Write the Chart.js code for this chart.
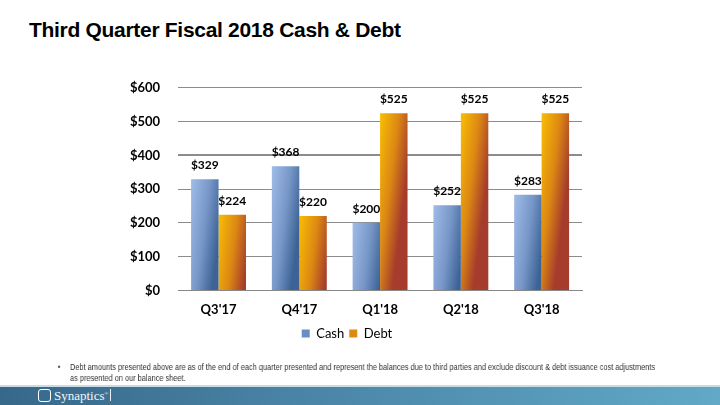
<!DOCTYPE html>
<html>
<head>
<meta charset="utf-8">
<script src="https://cdn.jsdelivr.net/npm/chart.js@4"></script>
<style>
  html, body { margin: 0; padding: 0; }
  body { width: 720px; height: 405px; position: relative; overflow: hidden; background: #fff; font-family: "Liberation Sans", Arial, sans-serif; }
  h1 { position: absolute; left: 29px; top: 18px; margin: 0; font-size: 21px; font-weight: bold; color: #000; letter-spacing: -0.3px; }
  #wrap { position: absolute; left: 112px; top: 62px; width: 486px; height: 291px; }
  .note { position: absolute; left: 70px; top: 362px; white-space: nowrap; font-size: 9px; line-height: 10.5px; color: #333; transform: scaleX(0.82); transform-origin: 0 0; will-change: transform; }
  .note span { position: absolute; left: -15px; }
  .footer { position: absolute; left: 0; top: 385px; width: 720px; height: 20px; background: linear-gradient(to right, #36688a, #4b86a8 45%, #61a9c7); border-top: 2px solid #c9dbe4; box-sizing: border-box; }
  .logo { position: absolute; left: 38px; top: 1px; color: #f2f6f9; font-family: "Liberation Serif", serif; font-size: 13px; }
  .logo i { display: inline-block; width: 13px; height: 13px; border: 1.5px solid #fff; border-radius: 3px; box-sizing: border-box; vertical-align: -2px; margin-right: 3px; }
  .bar { position: absolute; left: 110px; top: 2px; width: 1px; height: 12px; background: #e8f0f5; }
</style>
</head>
<body>
<h1>Third Quarter Fiscal 2018 Cash &amp; Debt</h1>
<div id="wrap"><canvas id="cashDebtChart"></canvas></div>
<div class="note"><span>•</span>Debt amounts presented above are as of the end of each quarter presented and represent the balances due to third parties and exclude discount &amp; debt issuance cost adjustments<br>as presented on our balance sheet.</div>
<div class="footer"><div class="logo"><i></i>Synaptics<sup style="font-size:5px">®</sup></div><div class="bar"></div></div>
<script>
const quarters = ["Q3'17", "Q4'17", "Q1'18", "Q2'18", "Q3'18"];
const cash = [329, 368, 200, 252, 283];
const debt = [224, 220, 525, 525, 525];
const yTicks = [0, 100, 200, 300, 400, 500, 600];

const labelFont = "Lato, 'Open Sans', sans-serif";
const gradientStops = [['#a0bce8', '#7797c8', '#3d6396'], ['#f9be03', '#dc8714', '#a53c2c']];

// each bar gets its own gradient (light left, dark lower right) once positions are known
const barShading = {
    id: 'barShading',
    beforeDatasetsDraw(chart) {
        const c = chart.ctx;
        chart.data.datasets.forEach((ds, i) => {
            const [from, mid, to] = gradientStops[i];
            chart.getDatasetMeta(i).data.forEach(bar => {
                const w = bar.width;
                const left = bar.x - w / 2;
                const g = c.createLinearGradient(left, bar.y, left + w * 1.25, bar.y + w * 0.16);
                g.addColorStop(0, from);
                g.addColorStop(0.55, mid);
                g.addColorStop(1, to);
                bar.options = Object.assign({}, bar.options, { backgroundColor: g });
            });
        });
    }
};

const valueLabels = {
    id: 'valueLabels',
    afterDatasetsDraw(chart) {
        const c = chart.ctx;
        c.save();
        c.font = "bold 12px " + labelFont;
        c.fillStyle = '#000';
        c.textAlign = 'center';
        c.textBaseline = 'bottom';
        chart.data.datasets.forEach((ds, i) => {
            chart.getDatasetMeta(i).data.forEach((bar, j) => {
                c.fillText('$' + ds.data[j], bar.x, bar.y - 8);
            });
        });
        c.restore();
    }
};

new Chart(document.getElementById('cashDebtChart'), {
    type: 'bar',
    data: {
        labels: quarters,
        datasets: [{
            label: 'Cash',
            data: cash,
            backgroundColor: '#6a8ec2',
            borderWidth: 0
        }, {
            label: 'Debt',
            data: debt,
            backgroundColor: '#dc8a16',
            borderWidth: 0
        }]
    },
    options: {
        responsive: true,
        maintainAspectRatio: false,
        animation: false,
        layout: { padding: { top: 10, right: 16, bottom: 3 } },
        datasets: { bar: { categoryPercentage: 0.68, barPercentage: 1 } },
        scales: {
            x: {
                grid: { display: false },
                border: { color: '#888', width: 1 },
                ticks: { color: '#000', font: { family: labelFont, size: 13, weight: 'bold' }, padding: 4 }
            },
            y: {
                min: 0,
                max: 600,
                afterBuildTicks: axis => { axis.ticks = yTicks.map(v => ({ value: v })); },
                border: { display: false },
                grid: {
                    color: '#8c8c8c',
                    lineWidth: ctx => (ctx.tick && ctx.tick.value === 400 ? 2 : 1),
                    drawTicks: false
                },
                ticks: {
                    color: '#000',
                    padding: 18,
                    font: { family: labelFont, size: 13, weight: 'bold' },
                    callback: v => '$' + v
                }
            }
        },
        plugins: {
            legend: {
                position: 'bottom',
                labels: {
                    color: '#000',
                    boxWidth: 8,
                    boxHeight: 8,
                    padding: 5,
                    font: { family: labelFont, size: 13 },
                    generateLabels: chart => chart.data.datasets.map((ds, i) => ({
                        text: ds.label,
                        fillStyle: ds.backgroundColor,
                        strokeStyle: 'transparent',
                        lineWidth: 0,
                        datasetIndex: i
                    }))
                }
            },
            tooltip: { enabled: false }
        }
    },
    plugins: [barShading, valueLabels]
});
</script>
</body>
</html>
